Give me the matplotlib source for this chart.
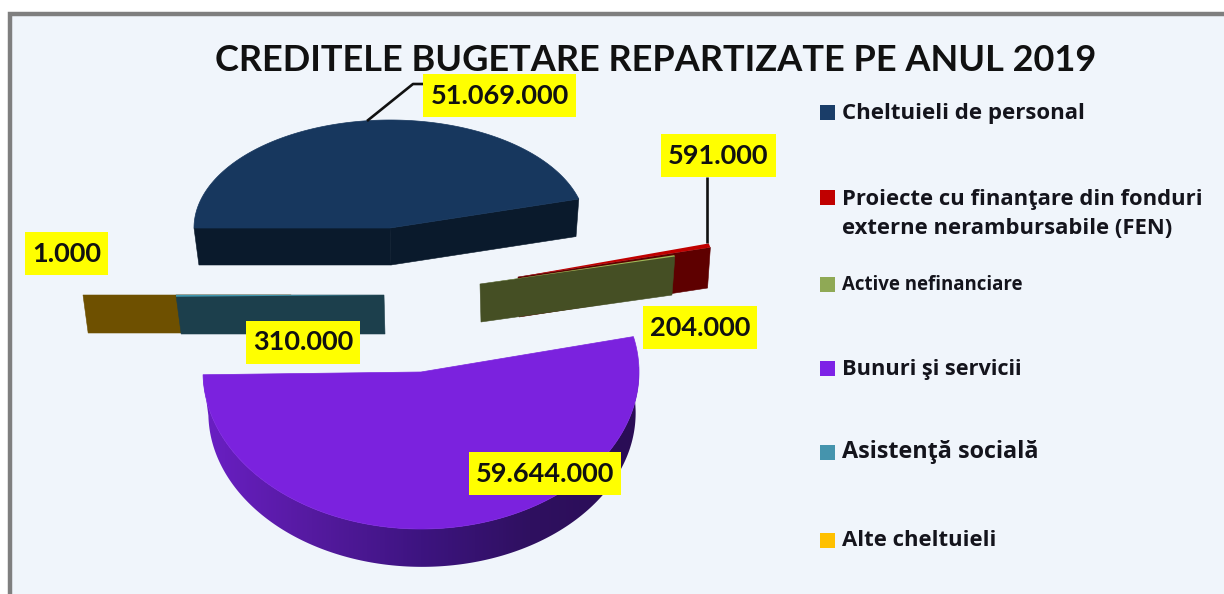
import numpy as np
import matplotlib
matplotlib.use("Agg")
import matplotlib.pyplot as plt
from matplotlib.patches import Polygon, Rectangle
from matplotlib.colors import LinearSegmentedColormap

categories = ["Cheltuieli de personal",
              "Proiecte cu finanţare din fonduri\nexterne nerambursabile (FEN)",
              "Active nefinanciare", "Bunuri şi servicii",
              "Asistenţă socială", "Alte cheltuieli"]
values = [51069000, 591000, 204000, 59644000, 310000, 1000]
value_labels = ["51.069.000", "591.000", "204.000", "59.644.000", "310.000", "1.000"]
title = "CREDITELE BUGETARE REPARTIZATE PE ANUL 2019"

top_colors = ["#17375e", "#c00000", "#9bbb59", "#7b22de", "#4198af", "#ffc000"]
wall_colors = ["#0a1a2c", "#5e0000", "#454f24", None, "#1c3f4c", "#6e5000"]
legend_colors = ["#1a3d68", "#c00000", "#8fa955", "#7d22e6", "#4594ad", "#ffc000"]

# exploded-slice geometry: centre x, centre y, radius x, radius y, depth
geometry = [(390, 228, 196, 108, 37), (518, 277, 198, 125, 40), (480, 284, 200, 122, 38),
            (421, 372, 218, 157, 41), (384, 295, 208, 100, 39), (291, 295, 208, 100, 38)]
BOTTOM_SCALE = 0.98
label_centers = [(499.5, 95.5), (718.5, 155.5), (700, 327.5), (545, 473.5), (303, 342), (66.5, 253.5)]
legend_y = [112, 197, 284, 368, 452, 540]
legend_text_y = [113, 214, 285, 369, 452, 541]
legend_size = [16, 15.8, 13.45, 15.7, 16.8, 15.9]

fig = plt.figure(figsize=(12.24, 5.94), dpi=100, facecolor="white")
ax = fig.add_axes([0, 0, 1, 1])
ax.set_xlim(0, 1224)
ax.set_ylim(594, 0)
ax.axis("off")
plt.rcParams["font.family"] = ["Lato", "DejaVu Sans"]

# panel
ax.add_patch(Rectangle((10, 14), 1220, 590, fc="#f0f5fb", ec="#7f7f7f", lw=3.2, zorder=0))

# slice angles, clockwise from the left
shares = np.array(values, dtype=float) / sum(values) * 360
ends = 180 - np.cumsum(shares)
starts = ends + shares


def rim(g, deg, bottom=False):
    cx, cy, rx, ry, d = g
    t = np.radians(deg)
    if bottom:
        return cx + 1 + BOTTOM_SCALE * rx * np.cos(t), cy + d - BOTTOM_SCALE * ry * np.sin(t)
    return cx + rx * np.cos(t), cy - ry * np.sin(t)


def wall(g, deg, color, z):
    cx, cy, rx, ry, d = g
    pts = [rim(g, deg), (cx, cy), (cx + 1, cy + d), rim(g, deg, True)]
    ax.add_patch(Polygon(pts, closed=True, fc=color, ec=color, lw=0.4, zorder=z))


purple_side = LinearSegmentedColormap.from_list("side", ["#6a1fc4", "#551aa0", "#3d1480", "#2f1060", "#2a0d55"])
draw_order = [0, 1, 2, 5, 4, 3]
for z, i in enumerate(draw_order, start=2):
    g = geometry[i]
    a0, a1 = starts[i], ends[i]
    if i == 3:
        # outer cylinder wall of the large front slice, filled with a left-to-right gradient
        arc = np.linspace(a0, a1, 200)
        tx, ty = rim(g, arc)
        bx, by = rim(g, arc, True)
        side_pts = np.column_stack([np.r_[tx, bx[::-1]], np.r_[ty, by[::-1]]])
        side = Polygon(side_pts, closed=True, fc="none", ec="none", zorder=z)
        ax.add_patch(side)
        grad = ax.imshow(np.linspace(0, 1, 256).reshape(1, -1), cmap=purple_side, aspect="auto",
                         extent=(g[0] - g[2], g[0] + g[2], g[1] + g[4] + g[3] + 5, g[1] - 5), zorder=z)
        grad.set_clip_path(side)
        ax.set_xlim(0, 1224)
        ax.set_ylim(594, 0)
    elif i == 0:
        wall(g, a0, wall_colors[i], z)
        wall(g, a1, wall_colors[i], z)
    else:
        wall(g, a1, wall_colors[i], z)
    arc = np.linspace(a0, a1, max(int(abs(a0 - a1)) * 2, 2))
    xs, ys = rim(g, arc)
    pts = np.column_stack([np.r_[g[0], xs], np.r_[g[1], ys]])
    big = shares[i] > 10
    ax.add_patch(Polygon(pts, closed=True, fc=top_colors[i], ec=top_colors[i], lw=0.5 if big else 0, zorder=z + 0.5))

# leader lines
ax.plot([367, 413, 423], [121, 84, 84], color="#111111", lw=1.9, zorder=20, solid_capstyle="butt")
ax.plot([707, 707], [243, 177], color="#111111", lw=1.9, zorder=20, solid_capstyle="butt")

# data labels: yellow boxes sized from the text
renderer = fig.canvas.get_renderer()
for (x, y), lab in zip(label_centers, value_labels):
    t = ax.text(x, y, lab, ha="center", va="center", fontsize=19.5, fontweight="bold", color="#111111", zorder=31)
    w = t.get_window_extent(renderer).width + 14
    ax.add_patch(Rectangle((x - w / 2, y - 21.5), w, 43, fc="#ffff00", ec="none", zorder=30))

# title
ax.text(655.5, 60.5, title, ha="center", va="center", fontsize=26, fontweight="bold", color="#111111", zorder=30)

# legend
for name, c, yb, yt, fs in zip(categories, legend_colors, legend_y, legend_text_y, legend_size):
    ax.add_patch(Rectangle((819.5, yb - 7.5), 15, 15, fc=c, ec="none", zorder=30))
    ax.text(842, yt, name, ha="left", va="center", fontsize=fs, fontweight="bold", family=["Open Sans", "DejaVu Sans"],
            color="#14141c", linespacing=1.55, zorder=30)

fig.savefig("out.png", dpi=100, facecolor="white")
